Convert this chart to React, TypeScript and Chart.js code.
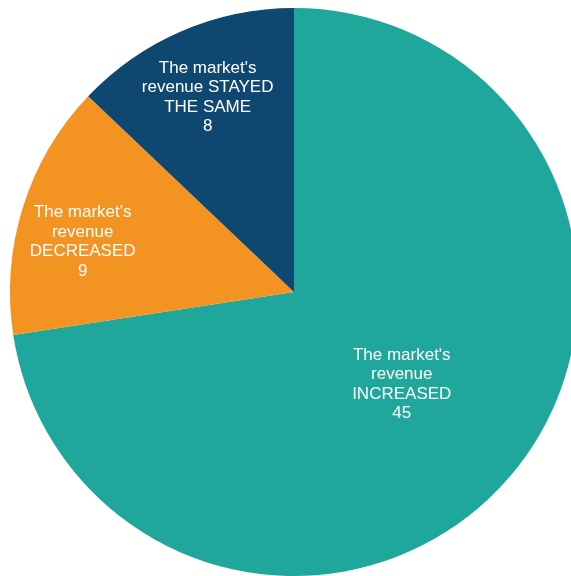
import React, { useEffect, useRef } from "react";
import { Chart, registerables } from "chart.js";

Chart.register(...registerables);

const categories = [
  "The market's revenue INCREASED",
  "The market's revenue DECREASED",
  "The market's revenue STAYED THE SAME",
];
const values = [45, 9, 8];
const labelLines = [
  ["The market's", "revenue", "INCREASED"],
  ["The market's", "revenue", "DECREASED"],
  ["The market's", "revenue STAYED", "THE SAME"],
];
const colors = ["#1fa79b", "#f39322", "#0e4770"];
const labelRadiusFrac = [0.5, 0.765, 0.75];
const labelAngleShift = [0, -0.07, -0.012];

const labelPlugin = {
  id: "sliceLabels",
  afterDatasetsDraw(chart: any) {
    const ctx = chart.ctx;
    const meta = chart.getDatasetMeta(0);
    ctx.save();
    ctx.fillStyle = "#ffffff";
    ctx.font = "17px 'Liberation Sans', Arial, sans-serif";
    ctx.textAlign = "center";
    ctx.textBaseline = "middle";
    const lh = 19.5;
    meta.data.forEach((arc: any, i: number) => {
      const mid = (arc.startAngle + arc.endAngle) / 2 + labelAngleShift[i];
      const r = arc.outerRadius * labelRadiusFrac[i];
      const cx = arc.x + Math.cos(mid) * r;
      const cy = arc.y + Math.sin(mid) * r;
      const lines = [...labelLines[i], String(values[i])];
      const top = cy - ((lines.length - 1) * lh) / 2;
      lines.forEach((t, k) => ctx.fillText(t, cx, top + k * lh));
    });
    ctx.restore();
  },
};

export default function App() {
  const ref = useRef<HTMLCanvasElement>(null);
  useEffect(() => {
    if (!ref.current) return;
    const chart = new Chart(ref.current, {
      type: "pie",
      data: {
        labels: categories,
        datasets: [
          {
            data: values,
            backgroundColor: colors,
            borderWidth: 0,
          },
        ],
      },
      options: {
        responsive: false,
        animation: false,
        layout: { padding: 8 },
        plugins: {
          legend: { display: false },
          tooltip: { enabled: false },
        },
      },
      plugins: [labelPlugin],
    });
    return () => chart.destroy();
  }, []);
  return (
    <div
      style={{
        position: "absolute",
        left: 0,
        top: 0,
        width: 571,
        height: 576,
        overflow: "hidden",
        background: "#ffffff",
      }}
    >
      <canvas ref={ref} width={588} height={584} style={{ display: "block" }} />
    </div>
  );
}
